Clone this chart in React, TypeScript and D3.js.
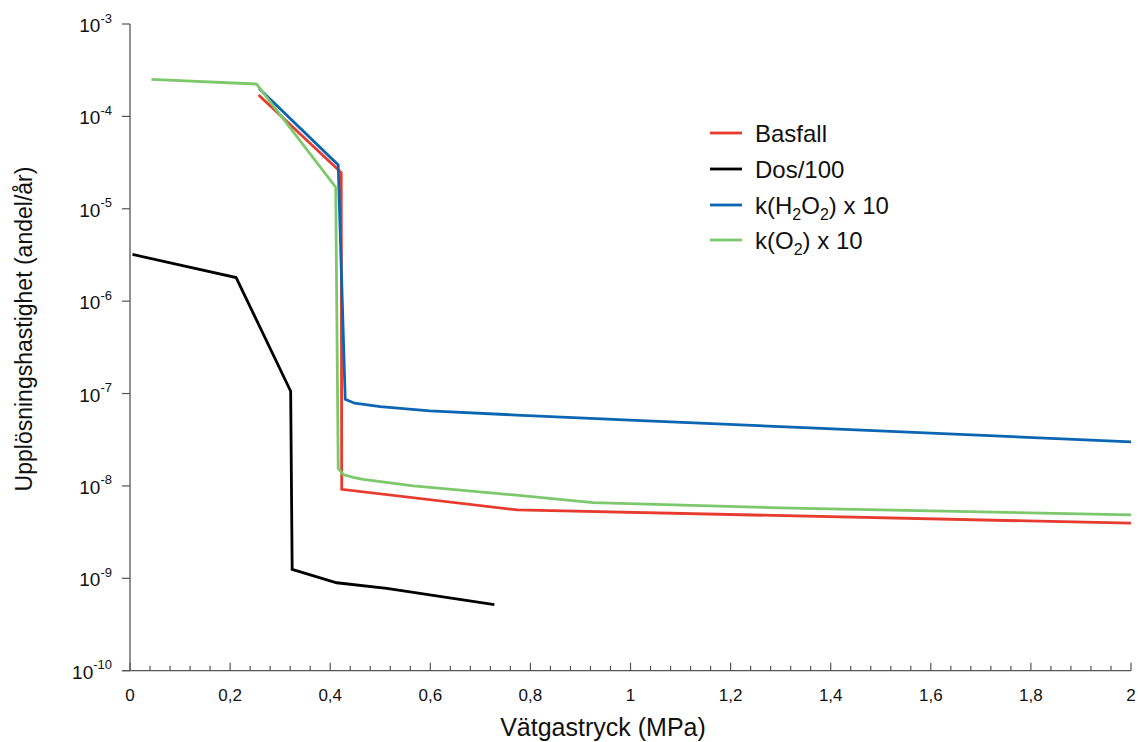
import React from "react";
import * as d3 from "d3";

const basfallX = [0.257, 0.416, 0.422, 0.423, 0.774, 2.0];
const basfallY = [1.7e-4, 2.65e-5, 2.45e-5, 9.2e-9, 5.5e-9, 3.95e-9];

const dosX = [0.005, 0.212, 0.321, 0.324, 0.413, 0.513, 0.728];
const dosY = [3.2e-6, 1.8e-6, 1.06e-7, 1.25e-9, 8.95e-10, 7.8e-10, 5.2e-10];

const h2o2X = [0.258, 0.416, 0.43, 0.449, 0.5, 0.599, 0.772, 0.999, 1.358, 2.0];
const h2o2Y = [2.0e-4, 2.98e-5, 8.65e-8, 7.85e-8, 7.2e-8, 6.5e-8, 5.85e-8, 5.15e-8, 4.25e-8, 3.0e-8];

const o2X = [0.043, 0.253, 0.411, 0.416, 0.426, 0.446, 0.466, 0.566, 0.772, 0.925, 1.298, 2.0];
const o2Y = [2.52e-4, 2.24e-4, 1.71e-5, 1.55e-8, 1.33e-8, 1.24e-8, 1.18e-8, 1.0e-8, 7.95e-9, 6.6e-9, 5.8e-9, 4.85e-9];

const xMajorTicks = [0, 0.2, 0.4, 0.6, 0.8, 1, 1.2, 1.4, 1.6, 1.8, 2];
const xTickLabels = ["0", "0,2", "0,4", "0,6", "0,8", "1", "1,2", "1,4", "1,6", "1,8", "2"];
const yExponents = [-3, -4, -5, -6, -7, -8, -9, -10];

const seriesNames = ["Basfall", "Dos/100", "k(H2O2) x 10", "k(O2) x 10"];
const seriesColors = ["#e63b2e", "#000000", "#0a66b2", "#7cc86b"];

const FONT = "'Liberation Sans', Arial, Helvetica, sans-serif";
const AXIS = "#555";

export default function App() {
  const x = d3.scaleLinear().domain([0, 2]).range([130, 1131]);
  const y = d3.scaleLog().domain([1e-10, 1e-3]).range([670.7, 24]);

  const line = d3
    .line<[number, number]>()
    .x((d) => x(d[0]))
    .y((d) => y(d[1]));

  const series = [
    { xs: basfallX, ys: basfallY },
    { xs: dosX, ys: dosY },
    { xs: h2o2X, ys: h2o2Y },
    { xs: o2X, ys: o2Y },
  ];

  const minorTicks = d3.range(0, 51).map((i) => i * 0.04);
  const axisY = y(1e-10);

  const legendRows = [133, 169, 205, 240];

  const legendLabel = (i: number) => {
    if (i === 2)
      return (
        <>
          k(H
          <tspan dy={6} fontSize={16}>2</tspan>
          <tspan dy={-6}>O</tspan>
          <tspan dy={6} fontSize={16}>2</tspan>
          <tspan dy={-6}>) x 10</tspan>
        </>
      );
    if (i === 3)
      return (
        <>
          k(O
          <tspan dy={6} fontSize={16}>2</tspan>
          <tspan dy={-6}>) x 10</tspan>
        </>
      );
    return seriesNames[i];
  };

  return (
    <svg
      width={1138}
      height={742}
      style={{ position: "absolute", left: 0, top: 0, background: "#fff" }}
      fontFamily={FONT}
    >
      <rect x={0} y={0} width={1138} height={742} fill="#fff" />
      {/* X axis */}
      <line x1={122} x2={x(2)} y1={axisY} y2={axisY} stroke={AXIS} strokeWidth={1.3} />
      {minorTicks.map((t, i) => {
        const major = i % 5 === 0;
        return (
          <line
            key={"mt" + i}
            x1={x(t)}
            x2={x(t)}
            y1={axisY}
            y2={axisY - (major ? 8 : 5)}
            stroke={AXIS}
            strokeWidth={1.2}
          />
        );
      })}
      {xMajorTicks.map((t, i) => (
        <text key={"xl" + i} x={x(t)} y={701} textAnchor="middle" fontSize={17} fill="#111">
          {xTickLabels[i]}
        </text>
      ))}
      {/* Y axis */}
      <line x1={130} x2={130} y1={y(1e-3)} y2={axisY} stroke={AXIS} strokeWidth={1.3} />
      {yExponents.map((e) => {
        const yy = y(Math.pow(10, e));
        return (
          <g key={"y" + e}>
            <line x1={122} x2={130} y1={yy} y2={yy} stroke={AXIS} strokeWidth={1.2} />
            <text x={112} y={yy + 8} textAnchor="end" fontSize={19} fill="#111">
              10
              <tspan dy={-9.5} fontSize={13}>{String(e)}</tspan>
            </text>
          </g>
        );
      })}
      {/* Axis titles */}
      <text x={603} y={736} textAnchor="middle" fontSize={25} fill="#111">
        Vätgastryck (MPa)
      </text>
      <text
        transform="translate(32,329) rotate(-90)"
        textAnchor="middle"
        fontSize={23}
        fill="#111"
      >
        Upplösningshastighet (andel/år)
      </text>
      {/* Series */}
      {series.map((s, i) => (
        <path
          key={"s" + i}
          d={line(s.xs.map((v, j) => [v, s.ys[j]] as [number, number])) || ""}
          fill="none"
          stroke={seriesColors[i]}
          strokeWidth={2.8}
          strokeLinejoin="miter"
        />
      ))}
      {/* Legend */}
      {seriesNames.map((n, i) => (
        <g key={"lg" + i}>
          <line
            x1={710}
            x2={742}
            y1={legendRows[i]}
            y2={legendRows[i]}
            stroke={seriesColors[i]}
            strokeWidth={2.8}
          />
          <text x={755} y={legendRows[i] + 9} fontSize={24} fill="#111">
            {legendLabel(i)}
          </text>
        </g>
      ))}
    </svg>
  );
}
